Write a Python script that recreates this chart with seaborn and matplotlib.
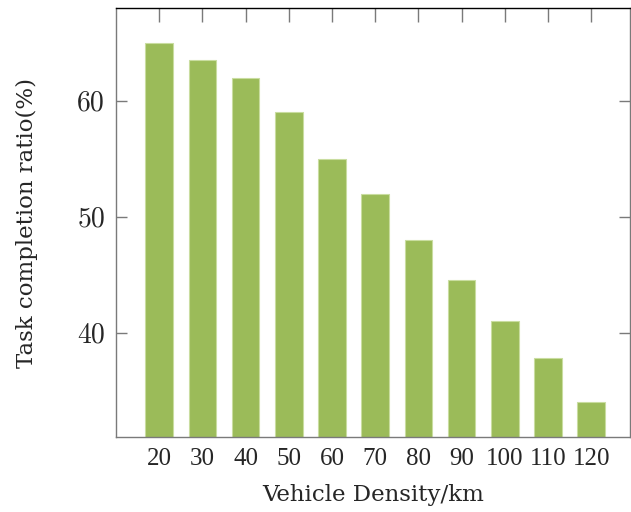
import matplotlib
matplotlib.use("Agg")
import matplotlib.pyplot as plt
import seaborn as sns
import pandas as pd

densities = ["20", "30", "40", "50", "60", "70", "80", "90", "100", "110", "120"]
completion = [65.0, 63.5, 62.0, 59.0, 55.0, 52.0, 48.0, 44.5, 41.0, 37.8, 34.0]

df = pd.DataFrame({"density": densities, "ratio": completion})

sns.set_theme(style="white")
plt.rcParams["font.family"] = ["DejaVu Serif"]

fig = plt.figure(figsize=(6.31, 5.12), dpi=100)
ax = fig.add_axes([116 / 631, 75 / 512, 514 / 631, 429 / 512])

sns.barplot(data=df, x="density", y="ratio", order=densities, color="#9BBB59",
            saturation=1, width=0.64, edgecolor="#C9DDA0", linewidth=0.8, ax=ax)

ax.set_xlim(-1, 10.9)
ax.set_ylim(31, 68)
ax.set_yticks([40, 50, 60])
ax.set_yticklabels(["40", "50", "60"])

gray = "#7a7a7a"
for s in ["left", "bottom", "right"]:
    ax.spines[s].set_color(gray)
    ax.spines[s].set_linewidth(1.0)
ax.spines["top"].set_color("black")
ax.spines["top"].set_linewidth(1.0)

ax.tick_params(axis="x", which="both", top=True, bottom=False, labelbottom=True,
               direction="in", length=10, color=gray, width=1, pad=8)
ax.tick_params(axis="y", which="both", left=True, right=True, direction="in",
               length=8, color=gray, width=1, pad=8)
for lab in ax.get_xticklabels():
    lab.set_fontfamily("Liberation Serif")
    lab.set_fontsize(18)
for lab in ax.get_yticklabels():
    lab.set_fontfamily("cmr10")
    lab.set_fontsize(20)

ax.set_xlabel("Vehicle Density/km", fontsize=16.5, family="DejaVu Serif", labelpad=10)
ax.set_ylabel("Task completion ratio(%)", fontsize=16.5, family="DejaVu Serif", labelpad=28)

fig.savefig("out.png", dpi=100)
